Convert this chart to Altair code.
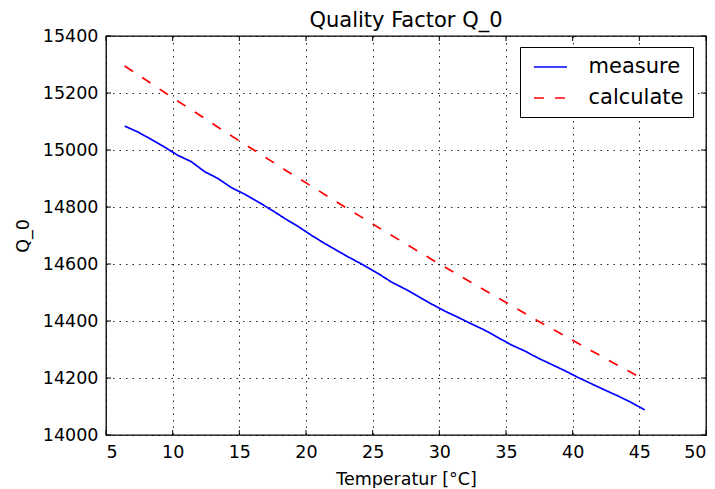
import altair as alt
import pandas as pd

temperature = [6.4, 7.4, 8.4, 9.4, 10.4, 11.4, 12.4, 13.4, 14.4, 15.4,
               16.4, 17.4, 18.4, 19.4, 20.4, 21.4, 22.4, 23.4, 24.4, 25.4,
               26.4, 27.4, 28.4, 29.4, 30.4, 31.4, 32.4, 33.4, 34.4, 35.4,
               36.4, 37.4, 38.4, 39.4, 40.4, 41.4, 42.4, 43.4, 44.4, 45.4]

measure = [15084, 15063, 15037, 15010, 14981, 14959, 14924, 14900, 14868, 14845,
           14818, 14790, 14760, 14732, 14701, 14672, 14645, 14619, 14594, 14567,
           14537, 14513, 14487, 14460, 14435, 14413, 14390, 14368, 14342, 14316,
           14295, 14270, 14248, 14226, 14202, 14180, 14158, 14137, 14114, 14088]

calculate = [15295, 15264, 15233, 15202, 15171, 15141, 15111, 15080, 15050, 15020,
             14991, 14961, 14931, 14902, 14873, 14844, 14815, 14786, 14758, 14729,
             14701, 14673, 14645, 14617, 14590, 14562, 14535, 14508, 14481, 14454,
             14427, 14400, 14374, 14348, 14322, 14296, 14270, 14244, 14219, 14193]

series_names = ["measure", "calculate"]
x_ticks = [5, 10, 15, 20, 25, 30, 35, 40, 45, 50]
y_ticks = [14000, 14200, 14400, 14600, 14800, 15000, 15200, 15400]

rows = []
for t, m, c in zip(temperature, measure, calculate):
    rows.append({"T": t, "Q": m, "series": "measure"})
    rows.append({"T": t, "Q": c, "series": "calculate"})
df = pd.DataFrame(rows)
xt = pd.DataFrame({"T": x_ticks})
yt = pd.DataFrame({"Q": y_ticks})

FONT = "DejaVu Sans"
W, H = 600, 399

xscale = alt.Scale(domain=[5, 50], nice=False, zero=False)
yscale = alt.Scale(domain=[14000, 15400], nice=False, zero=False)

lines = alt.Chart(df).mark_line(strokeWidth=1.7, clip=True).encode(
    x=alt.X("T:Q", scale=xscale,
            axis=alt.Axis(values=x_ticks, title="Temperatur [°C]", format="d")),
    y=alt.Y("Q:Q", scale=yscale,
            axis=alt.Axis(values=y_ticks, title="Q_0", format="d")),
    color=alt.Color("series:N",
                    scale=alt.Scale(domain=series_names, range=["#0000ff", "#ff0000"]),
                    legend=alt.Legend(title=None)),
    strokeDash=alt.StrokeDash("series:N",
                              scale=alt.Scale(domain=series_names, range=[[1, 0], [10, 11]]),
                              legend=alt.Legend(title=None)),
    order=alt.Order("T:Q"),
)

tick_bottom = alt.Chart(xt).mark_rule(color="black", strokeWidth=1).encode(
    x=alt.X("T:Q", scale=xscale), y=alt.value(H), y2=alt.value(H - 5))
tick_top = alt.Chart(xt).mark_rule(color="black", strokeWidth=1).encode(
    x=alt.X("T:Q", scale=xscale), y=alt.value(0), y2=alt.value(5))
tick_left = alt.Chart(yt).mark_rule(color="black", strokeWidth=1).encode(
    y=alt.Y("Q:Q", scale=yscale), x=alt.value(0), x2=alt.value(5))
tick_right = alt.Chart(yt).mark_rule(color="black", strokeWidth=1).encode(
    y=alt.Y("Q:Q", scale=yscale), x=alt.value(W), x2=alt.value(W - 5))

chart = alt.layer(lines, tick_bottom, tick_top, tick_left, tick_right).properties(
    width=W, height=H,
    title=alt.TitleParams("Quality Factor Q_0", fontSize=21, font=FONT,
                          fontWeight="normal", color="black", offset=-4,
                          anchor="middle", frame="group"),
    autosize=alt.AutoSizeParams(type="none"),
    padding={"left": 98, "top": 28, "right": 1, "bottom": 53},
).configure_view(
    stroke="black", strokeWidth=1.3
).configure_axis(
    labelFont=FONT, titleFont=FONT, labelFontSize=17.5, titleFontSize=17.5,
    titleFontWeight="normal", labelColor="black", titleColor="black",
    grid=True, gridColor="black", gridOpacity=0.85, gridDash=[1.5, 5], gridWidth=1,
    domain=False, ticks=False, labelPadding=8, titlePadding=10,
).configure_legend(
    orient="none", legendX=414, legendY=11,
    strokeColor="black", fillColor="white", padding=9, cornerRadius=0,
    labelFont=FONT, labelFontSize=21, labelColor="black",
    symbolType="M-1.65,0H1.65", symbolSize=400, symbolStrokeWidth=1.7,
    symbolOffset=10.5, labelOffset=27, rowPadding=10,
)

chart.save("out.html", embed_options={"renderer": "svg", "actions": False})
